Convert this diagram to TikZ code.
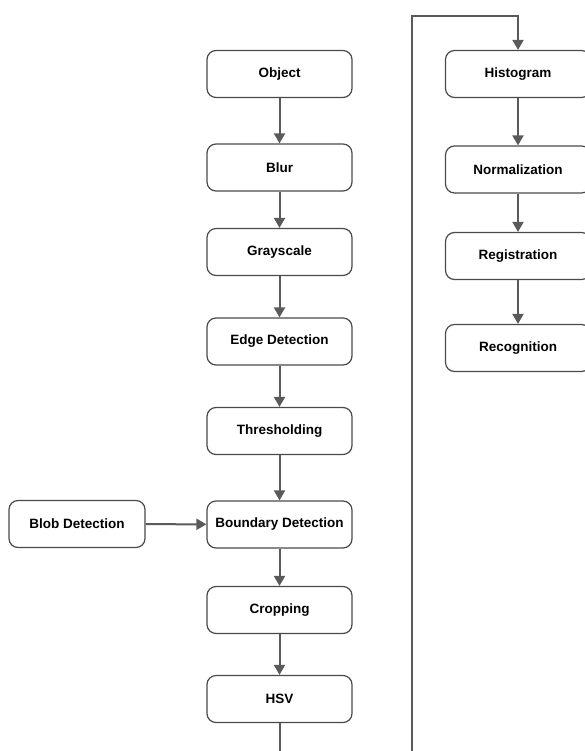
\documentclass[tikz,border=0pt]{standalone}
\usepackage{fontspec}
\setmainfont{Liberation Sans}
\usetikzlibrary{arrows.meta}
\definecolor{boxline}{HTML}{4A4A4A}
\definecolor{arrowline}{HTML}{5A5A5A}
\newcommand{\stepFont}[0]{\fontsize{13.5}{16}\selectfont\bfseries}

\begin{document}
\begin{tikzpicture}[x=1pt, y=-1pt]
  \tikzset{stepbox/.style={draw=boxline, line width=1.2pt, rounded corners=9pt,
      minimum width=145pt, minimum height=47pt, inner sep=0pt, font=\stepFont},
    flow/.style={draw=arrowline, line width=2pt,
      -{Triangle[width=11pt,length=10pt]}}}
  \useasboundingbox (0,0) rectangle (585,751);
  \clip (0,0) rectangle (585,751);
  \node[stepbox] (obj) at (279.5,74) {Object};
  \node[stepbox] (blur) at (279.5,167.5) {Blur};
  \node[stepbox] (gray) at (279.5,252) {Grayscale};
  \node[stepbox] (edge) at (279.5,341.5) {Edge Detection};
  \node[stepbox] (thresh) at (279.5,431) {Thresholding};
  \node[stepbox] (bound) at (279.5,524.5) {Boundary Detection};
  \node[stepbox] (crop) at (279.5,610) {Cropping};
  \node[stepbox] (hsv) at (279.5,699) {HSV};
  \node[stepbox, minimum width=136pt] (blob) at (77,524) {Blob Detection};
  \node[stepbox] (hist) at (518,74) {Histogram};
  \node[stepbox] (norm) at (518,169.5) {Normalization};
  \node[stepbox] (reg) at (518,256) {Registration};
  \node[stepbox] (recog) at (518,348) {Recognition};
  \coordinate (turn) at (412,16);
  \draw[flow] (obj) -- (blur);
  \draw[flow] (blur) -- (gray);
  \draw[flow] (gray) -- (edge);
  \draw[flow] (edge) -- (thresh);
  \draw[flow] (thresh) -- (bound);
  \draw[flow] (blob) -- (bound);
  \draw[flow] (bound) -- (crop);
  \draw[flow] (crop) -- (hsv);
  \draw[flow] (hsv.south) -- ++(0,60) -| (turn) -| (hist.north);
  \draw[flow] (hist) -- (norm);
  \draw[flow] (norm) -- (reg);
  \draw[flow] (reg) -- (recog);
\end{tikzpicture}
\end{document}
